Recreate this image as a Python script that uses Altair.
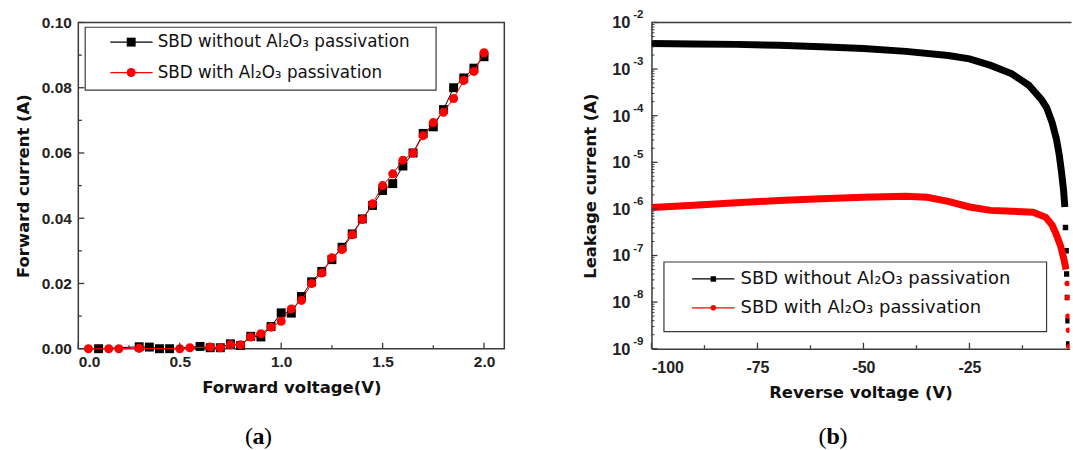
import altair as alt
import pandas as pd

# ---------------- Panel (a): forward I-V ----------------
a_v_without = [0.10, 0.30, 0.35, 0.40, 0.45, 0.60, 0.65, 0.70, 0.75, 0.80, 0.85, 0.90, 0.95,
               1.00, 1.05, 1.10, 1.15, 1.20, 1.25, 1.30, 1.35, 1.40, 1.45, 1.50, 1.55, 1.60,
               1.65, 1.70, 1.75, 1.80, 1.85, 1.90, 1.95, 2.00]
a_i_without = [0.0000, 0.0006, 0.0005, 0.0000, 0.0000, 0.0007, 0.0003, 0.0003, 0.0015, 0.0010,
               0.0038, 0.0036, 0.0068, 0.0110, 0.0109, 0.0160, 0.0205, 0.0237, 0.0273, 0.0311,
               0.0352, 0.0398, 0.0439, 0.0485, 0.0506, 0.0560, 0.0600, 0.0660, 0.0680, 0.0733,
               0.0800, 0.0830, 0.0860, 0.0895]
a_v_with = [0.05, 0.15, 0.20, 0.30, 0.50, 0.55, 0.65, 0.70, 0.75, 0.80, 0.85, 0.90, 0.95,
            1.00, 1.05, 1.10, 1.15, 1.20, 1.25, 1.30, 1.35, 1.40, 1.45, 1.50, 1.55, 1.60,
            1.65, 1.70, 1.75, 1.80, 1.85, 1.90, 1.95, 2.00]
a_i_with = [0.0000, 0.0000, 0.0000, 0.0001, 0.0000, 0.0003, 0.0005, 0.0003, 0.0012, 0.0012,
            0.0036, 0.0046, 0.0066, 0.0084, 0.0122, 0.0148, 0.0200, 0.0232, 0.0279, 0.0304,
            0.0349, 0.0396, 0.0444, 0.0500, 0.0536, 0.0578, 0.0600, 0.0653, 0.0693, 0.0725,
            0.0767, 0.0822, 0.0850, 0.0907]
a_x_ticks = [0.0, 0.5, 1.0, 1.5, 2.0]
a_x_minor = [0.25, 0.75, 1.25, 1.75]
a_y_ticks = [0.00, 0.02, 0.04, 0.06, 0.08, 0.10]
a_y_minor = [0.01, 0.03, 0.05, 0.07, 0.09]

# ---------------- Panel (b): reverse leakage ----------------
b_v_without = [-100, -90, -80, -70, -60, -50, -40, -30, -25, -20, -15, -11, -8, -6.8,
               -5.5, -4.5, -3.8, -3.3, -2.8, -2.5]
b_i_without = [3.55e-3, 3.47e-3, 3.39e-3, 3.24e-3, 3.02e-3, 2.75e-3, 2.40e-3, 1.95e-3,
               1.66e-3, 1.20e-3, 7.9e-4, 4.5e-4, 2.2e-4, 1.5e-4, 7.1e-5, 3.2e-5, 1.4e-5,
               6.3e-6, 2.5e-6, 1.1e-6]
b_tail_v_without = [-2.35, -2.2, -2.05, -1.9, -1.75, -1.6]
b_tail_i_without = [4.0e-7, 1.26e-7, 4.0e-8, 1.26e-8, 4.0e-9, 1.26e-9]
b_v_with = [-100, -90, -80, -70, -60, -50, -40, -35, -30, -25, -20, -15, -10, -7,
            -5.5, -4.5, -3.5, -2.8, -2.2]
b_i_with = [1.07e-6, 1.20e-6, 1.35e-6, 1.51e-6, 1.66e-6, 1.78e-6, 1.86e-6, 1.78e-6,
            1.45e-6, 1.10e-6, 9.3e-7, 8.9e-7, 8.5e-7, 6.6e-7, 4.5e-7, 2.8e-7, 1.6e-7,
            8.9e-8, 5.0e-8]
b_tail_v_with = [-1.95, -1.85, -1.75, -1.65, -1.55]
b_tail_i_with = [2.5e-8, 1.26e-8, 5.0e-9, 2.5e-9, 1.1e-9]
b_x_ticks = [-100, -75, -50, -25]
b_x_minor = [-87.5, -62.5, -37.5, -12.5]
b_y_ticks = [1e-9, 1e-8, 1e-7, 1e-6, 1e-5, 1e-4, 1e-3, 1e-2]
b_y_exp = ["-9", "-8", "-7", "-6", "-5", "-4", "-3", "-2"]
b_y_minor = [k * 10.0 ** e for e in range(-9, -2) for k in range(2, 10)]

label_without = "SBD without Al\u2082O\u2083 passivation"
label_with = "SBD with Al\u2082O\u2083 passivation"

FONT = "Liberation Sans"
TFONT = "DejaVu Sans"
SERIF = "Liberation Serif"
FRAME = "#3a3a3a"
RED = "#ff0000"

WA, HA = 427, 327
WB, HB = 419, 327

one = pd.DataFrame({"k": [0]})


def legend_items(box, rows, line_x, mark_x, text_x, msizes, fsize, lw):
    layers = [alt.Chart(one).mark_rect(fill="white", stroke=FRAME, strokeWidth=1.2).encode(
        x=alt.value(box[0]), x2=alt.value(box[1]), y=alt.value(box[2]), y2=alt.value(box[3]))]
    for (y, color, shape, text), ms in zip(rows, msizes):
        layers.append(alt.Chart(one).mark_rule(color=color, strokeWidth=lw).encode(
            x=alt.value(line_x[0]), x2=alt.value(line_x[1]), y=alt.value(y)))
        layers.append(alt.Chart(one).mark_point(shape=shape, filled=True, size=ms, color=color,
                                                opacity=1).encode(x=alt.value(mark_x), y=alt.value(y)))
        layers.append(alt.Chart(one).mark_text(text=text, align="left", baseline="middle", font=TFONT,
                                               fontSize=fsize, color="#111").encode(
            x=alt.value(text_x), y=alt.value(y)))
    return layers


def caption(cx, y, letter, half):
    return [
        alt.Chart(one).mark_text(text="(", align="right", baseline="middle", font=SERIF,
                                 fontSize=24, color="black").encode(x=alt.value(cx - half), y=alt.value(y)),
        alt.Chart(one).mark_text(text=letter, align="center", baseline="middle", font=SERIF,
                                 fontSize=24, fontWeight="bold", color="black").encode(
            x=alt.value(cx), y=alt.value(y)),
        alt.Chart(one).mark_text(text=")", align="left", baseline="middle", font=SERIF,
                                 fontSize=24, color="black").encode(x=alt.value(cx + half), y=alt.value(y)),
    ]


# ---------- panel (a) ----------
sa_x = alt.Scale(domain=[0, 2.1], nice=False, zero=False)
sa_y = alt.Scale(domain=[0, 0.1], nice=False, zero=False)
ax_a_x = alt.Axis(values=a_x_ticks, format=".1f", title="Forward voltage(V)", ticks=False, grid=False,
                  domain=False, labelFont=FONT, labelFontWeight="bold", labelFontSize=15.5,
                  labelColor="#222", labelPadding=6, titleFont=TFONT, titleFontWeight="bold",
                  titleFontSize=16.5, titleColor="#111", titlePadding=9)
ax_a_y = alt.Axis(values=a_y_ticks, format=".2f", title="Forward current (A)", ticks=False, grid=False,
                  domain=False, labelFont=FONT, labelFontWeight="bold", labelFontSize=15.5,
                  labelColor="#222", labelPadding=7, titleFont=TFONT, titleFontWeight="bold",
                  titleFontSize=16.5, titleColor="#111", titlePadding=10)
XA = alt.X("v:Q", scale=sa_x, axis=ax_a_x)
YA = alt.Y("i:Q", scale=sa_y, axis=ax_a_y)

df_a_wo = pd.DataFrame({"v": a_v_without, "i": a_i_without})
df_a_w = pd.DataFrame({"v": a_v_with, "i": a_i_with})

a_layers = [
    alt.Chart(df_a_wo).mark_line(color="black", strokeWidth=1).encode(x=XA, y=YA),
    alt.Chart(df_a_wo).mark_point(shape="square", filled=True, size=80, color="black",
                                  opacity=1).encode(x=XA, y=YA),
    alt.Chart(df_a_w).mark_line(color=RED, strokeWidth=1).encode(x=XA, y=YA),
    alt.Chart(df_a_w).mark_point(shape="circle", filled=True, size=82, color=RED,
                                 opacity=1).encode(x=XA, y=YA),
    alt.Chart(pd.DataFrame({"v": a_x_ticks})).mark_rule(color=FRAME, strokeWidth=1.3).encode(
        x=XA, y=alt.value(HA), y2=alt.value(HA - 6)),
    alt.Chart(pd.DataFrame({"v": a_x_minor})).mark_rule(color=FRAME, strokeWidth=1.3).encode(
        x=XA, y=alt.value(HA), y2=alt.value(HA - 3.5)),
    alt.Chart(pd.DataFrame({"i": a_y_ticks})).mark_rule(color=FRAME, strokeWidth=1.3).encode(
        y=YA, x=alt.value(0), x2=alt.value(6)),
    alt.Chart(pd.DataFrame({"i": a_y_minor})).mark_rule(color=FRAME, strokeWidth=1.3).encode(
        y=YA, x=alt.value(0), x2=alt.value(3.5)),
]
a_layers += legend_items((6.9, 358.6, 4.8, 67.8),
                         [(19.7, "black", "square", label_without), (50.2, RED, "circle", label_with)],
                         (32.1, 74.4), 53, 79.5, (80, 82), 16.8, 1.2)
a_layers += caption(180.6, 416, "a", 5.5)

panel_a = alt.layer(*a_layers).properties(
    width=WA, height=HA, view=alt.ViewBackground(stroke=FRAME, strokeWidth=1.5))

# ---------- panel (b) ----------
sb_x = alt.Scale(domain=[-100, -1.4], nice=False, zero=False)
sb_y = alt.Scale(type="log", domain=[1e-9, 1e-2], nice=False)
ax_b_x = alt.Axis(values=b_x_ticks, labelExpr="'' + datum.value", title="Reverse voltage (V)",
                  ticks=False, grid=False, domain=True, domainColor=FRAME, domainWidth=1.5,
                  labelFont=FONT, labelFontWeight="bold", labelFontSize=16, labelColor="#222",
                  labelPadding=11, titleFont=TFONT, titleFontWeight="bold", titleFontSize=16.5,
                  titleColor="#111", titlePadding=9)
ax_b_y = alt.Axis(labels=False, ticks=False, grid=False, domain=True, domainColor=FRAME, domainWidth=1.5,
                  title="Leakage current (A)", titleFont=TFONT, titleFontWeight="bold", titleFontSize=16.5,
                  titleColor="#111", titlePadding=53)
XB = alt.X("v:Q", scale=sb_x, axis=ax_b_x)
YB = alt.Y("i:Q", scale=sb_y, axis=ax_b_y)

df_b_wo = pd.DataFrame({"v": b_v_without, "i": b_i_without})
df_b_wo_t = pd.DataFrame({"v": b_tail_v_without, "i": b_tail_i_without})
df_b_w = pd.DataFrame({"v": b_v_with, "i": b_i_with})
df_b_w_t = pd.DataFrame({"v": b_tail_v_with, "i": b_tail_i_with})
df_b_lab = pd.DataFrame({"i": b_y_ticks, "e": b_y_exp})

b_layers = [
    alt.Chart(df_b_wo).mark_line(color="black", strokeWidth=7, clip=True).encode(x=XB, y=YB),
    alt.Chart(df_b_wo_t).mark_point(shape="square", filled=True, size=30, color="black", opacity=1,
                                    clip=True).encode(x=XB, y=YB),
    alt.Chart(df_b_w).mark_line(color=RED, strokeWidth=7, clip=True).encode(x=XB, y=YB),
    alt.Chart(df_b_w_t).mark_point(shape="circle", filled=True, size=30, color=RED, opacity=1,
                                   clip=True).encode(x=XB, y=YB),
    alt.Chart(pd.DataFrame({"v": b_x_ticks})).mark_rule(color=FRAME, strokeWidth=1.3).encode(
        x=XB, y=alt.value(HB), y2=alt.value(HB - 6)),
    alt.Chart(pd.DataFrame({"v": b_x_minor})).mark_rule(color=FRAME, strokeWidth=1.3).encode(
        x=XB, y=alt.value(HB), y2=alt.value(HB - 3.5)),
    alt.Chart(pd.DataFrame({"i": b_y_ticks})).mark_rule(color=FRAME, strokeWidth=1.3).encode(
        y=YB, x=alt.value(0), x2=alt.value(6)),
    alt.Chart(pd.DataFrame({"i": b_y_minor})).mark_rule(color=FRAME, strokeWidth=1).encode(
        y=YB, x=alt.value(0), x2=alt.value(3)),
    alt.Chart(one).mark_rule(color=FRAME, strokeWidth=1.5).encode(
        x=alt.value(0), x2=alt.value(WB + 2), y=alt.value(0)),
    alt.Chart(df_b_lab).mark_text(
        text="10", align="right", baseline="middle", font=FONT, fontWeight="bold", fontSize=16.5,
        color="#222", dy=1).encode(y=YB, x=alt.value(-21)),
    alt.Chart(df_b_lab).mark_text(
        align="right", baseline="middle", font=FONT, fontWeight="bold", fontSize=11.5,
        color="#222", dy=-7).encode(y=YB, x=alt.value(-8), text="e:N"),
]
b_layers += legend_items((12.5, 396, 240.1, 309.8),
                         [(257.1, "black", "square", label_without), (286, RED, "circle", label_with)],
                         (40.7, 83.2), 62, 89.3, (30, 30), 18, 1.3)
b_layers += caption(182, 416, "b", 6.5)

panel_b = alt.layer(*b_layers).properties(
    width=WB, height=HB, view=alt.ViewBackground(strokeOpacity=0))

chart = alt.hconcat(panel_a, panel_b, spacing=77.5).properties(
    padding={"left": 14.5, "top": 9, "right": 0, "bottom": 0},
    background="white",
)

chart.save("out.html", embed_options={"renderer": "svg", "actions": False})
